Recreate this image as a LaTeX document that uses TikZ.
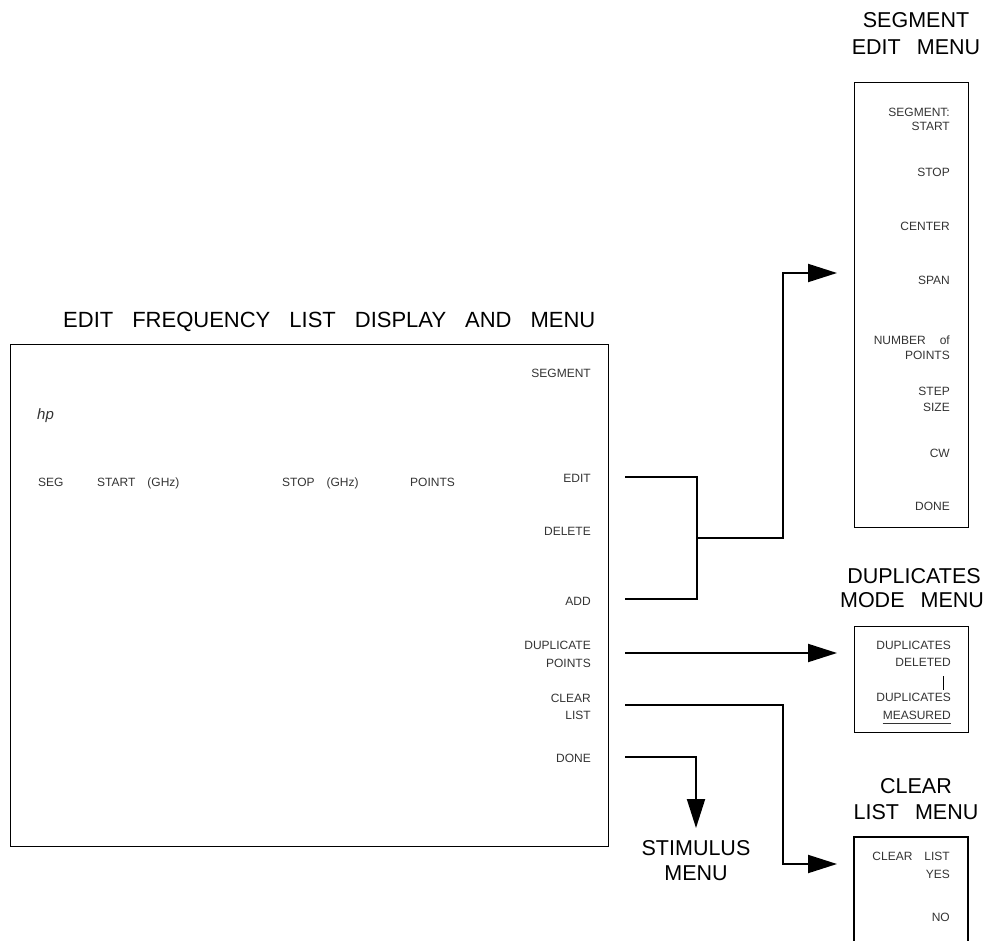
\documentclass[tikz,border=0pt]{standalone}
\usepackage{fontspec}
\setmainfont{Liberation Sans}
\usetikzlibrary{arrows.meta,calc}
\begin{document}
\begin{tikzpicture}[x=1pt,y=-1pt,
  big/.style={font=\fontsize{21.5}{24}\selectfont, inner sep=0, text=black},
  small/.style={font=\fontsize{12}{14}\selectfont, inner sep=0, text=black!80},
  box/.style={draw, line width=1.2pt, inner sep=0},
  conn/.style={line width=2pt},
  arr/.style={conn, -{Triangle[length=29pt,width=18pt]}}]
\useasboundingbox (0,0) rectangle (993,941);

% ---- main display ----
\node[big, font=\fontsize{22}{24}\selectfont, anchor=base west] (title) at (63,327)
  {EDIT\hspace{19pt}FREQUENCY\hspace{19pt}LIST\hspace{19pt}DISPLAY\hspace{19pt}AND\hspace{19pt}MENU};
\node[box, anchor=north west, minimum width=598pt, minimum height=502pt] (mainbox) at (10,344) {};

\node[small, anchor=base east] (msegment) at (591,377) {SEGMENT};
\node[small, anchor=base west, font=\fontsize{15}{16}\selectfont\itshape] (hp) at (37,419) {hp};
\node[small, anchor=base west] (seg) at (38,486) {SEG};
\node[small, anchor=base west] (start) at (97,486) {START\hspace{12pt}(GHz)};
\node[small, anchor=base west] (stop) at (282,486) {STOP\hspace{12pt}(GHz)};
\node[small, anchor=base west] (points) at (410,486) {POINTS};

\node[small, anchor=base east] (medit) at (591,482) {EDIT};
\node[small, anchor=base east] (mdelete) at (591,535) {DELETE};
\node[small, anchor=base east] (madd) at (591,605) {ADD};
\node[small, anchor=base east] (mdup1) at (591,649) {DUPLICATE};
\node[small, anchor=base east] (mdup2) at (591,667) {POINTS};
\node[small, anchor=base east] (mclear1) at (591,702) {CLEAR};
\node[small, anchor=base east] (mclear2) at (591,719) {LIST};
\node[small, anchor=base east] (mdone) at (591,762) {DONE};

% ---- segment edit menu ----
\node[big, anchor=base] (seghead1) at (916,28) {SEGMENT};
\node[big, anchor=base] (seghead2) at (916,55) {EDIT\hspace{16pt}MENU};
\node[box, anchor=north west, minimum width=114pt, minimum height=445pt] (segbox) at (854,82) {};
\node[small, anchor=base east] (s1) at (950,117) {SEGMENT:};
\node[small, anchor=base east] (s2) at (950,131) {START};
\node[small, anchor=base east] (s3) at (950,177) {STOP};
\node[small, anchor=base east] (s4) at (950,231) {CENTER};
\node[small, anchor=base east] (s5) at (950,285) {SPAN};
\node[small, anchor=base east] (s6) at (950,344) {NUMBER\hspace{14pt}of};
\node[small, anchor=base east] (s7) at (950,359) {POINTS};
\node[small, anchor=base east] (s8) at (950,395) {STEP};
\node[small, anchor=base east] (s9) at (950,411) {SIZE};
\node[small, anchor=base east] (s10) at (950,457) {CW};
\node[small, anchor=base east] (s11) at (950,510) {DONE};

% ---- duplicates mode menu ----
\node[big, anchor=base] (duphead1) at (914,583) {DUPLICATES};
\node[big, anchor=base] (duphead2) at (912,607) {MODE\hspace{16pt}MENU};
\node[box, anchor=north west, minimum width=114pt, minimum height=106pt] (dupbox) at (854,626) {};
\node[small, anchor=base east] (d1) at (951,649) {DUPLICATES};
\node[small, anchor=base east] (d2) at (951,666) {DELETED};
\node[small, anchor=base east] (d3) at (951,701) {DUPLICATES};
\node[small, anchor=base east] (d4) at (951,719) {MEASURED};
\draw[line width=0.9pt, black!80] ($(d4.base west)+(0,4)$) -- ($(d4.base east)+(0,4)$);
\coordinate (bartop) at (943,676);
\coordinate (barbot) at (943,690);
\draw[line width=1pt] (bartop) -- (barbot);

% ---- clear list menu ----
\node[big, anchor=base] (clrhead1) at (916,793) {CLEAR};
\node[big, anchor=base] (clrhead2) at (916,819) {LIST\hspace{16pt}MENU};
\coordinate (cbl) at (854,945);
\coordinate (ctl) at (854,837);
\coordinate (ctr) at (968,837);
\coordinate (cbr) at (968,945);
\draw[line width=1.2pt] (cbl) -- (ctl) -- (ctr) -- (cbr);
\node[small, anchor=base east] (c1) at (950,860) {CLEAR\hspace{12pt}LIST};
\node[small, anchor=base east] (c2) at (950,878) {YES};
\node[small, anchor=base east] (c3) at (950,921) {NO};

% ---- stimulus menu ----
\node[big, anchor=base] (stim1) at (696,855) {STIMULUS};
\node[big, anchor=base] (stim2) at (696,880) {MENU};

% ---- connectors ----
\coordinate (editS) at (625,477);
\coordinate (addS) at (625,599);
\coordinate (joinT) at (697,477);
\coordinate (joinB) at (697,599);
\coordinate (joinM) at (697,538);
\coordinate (segUp) at (783,273);
\coordinate (segTip) at (837,273);
\draw[conn] (editS) -- (joinT) -- (joinB) -- (addS);
\draw[arr] (joinM) -| (segUp) -- (segTip);

\coordinate (dupS) at (625,653);
\coordinate (dupTip) at (837,653);
\draw[arr] (dupS) -- (dupTip);

\coordinate (clrS) at (625,705);
\coordinate (clrDown) at (783,864);
\coordinate (clrTip) at (837,864);
\draw[arr] (clrS) -| (clrDown) -- (clrTip);

\coordinate (doneS) at (625,757);
\coordinate (doneTip) at (696,828);
\draw[arr] (doneS) -| (doneTip);
\end{tikzpicture}
\end{document}
